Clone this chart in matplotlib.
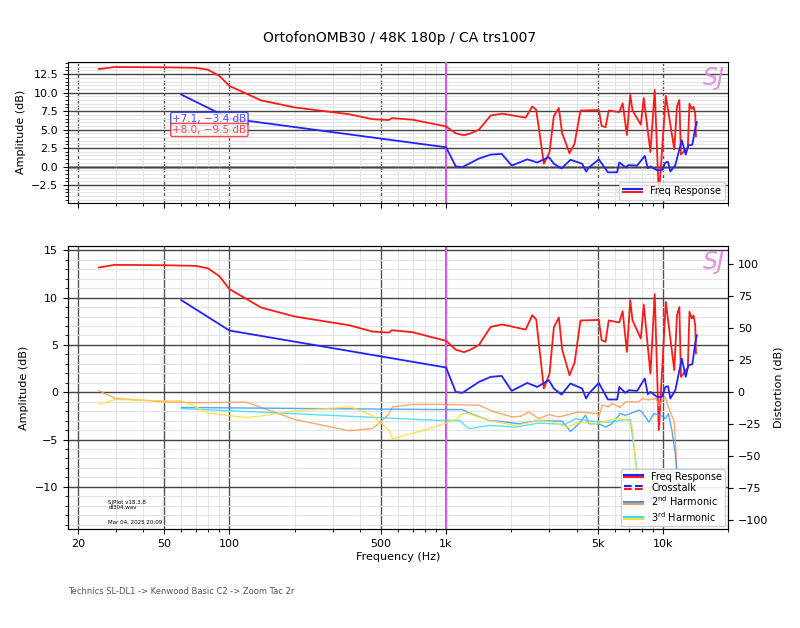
import matplotlib
matplotlib.use("Agg")
from matplotlib import pyplot as plt
from matplotlib.lines import Line2D
from matplotlib.legend_handler import HandlerBase
from matplotlib.ticker import FixedLocator, NullFormatter, MultipleLocator

TITLE = "OrtofonOMB30 / 48K 180p / CA trs1007"
FOOTER = "Technics SL-DL1 -> Kenwood Basic C2 -> Zoom Tac 2r"

# frequency response, red channel
freq_red = [25, 29.5, 50, 70, 79.5, 90, 100, 117, 140, 200, 357, 458, 545, 562, 700,
            1000, 1108, 1210, 1300, 1419, 1606, 1817, 2329, 2498, 2606, 2827, 3003,
            3143, 3315, 3433, 3712, 3916, 4172, 5070, 5220, 5444, 5630, 6300, 6530,
            6830, 7077, 7250, 7920, 8170, 8770, 9180, 9590, 10330, 11300, 11630,
            11930, 12130, 13050, 13280, 13600, 13870, 14120, 14230]
amp_red = [13.18, 13.46, 13.42, 13.35, 13.1, 12.26, 10.9, 10.0, 8.95, 8.0, 7.08, 6.41,
           6.3, 6.55, 6.34, 5.43, 4.5, 4.23, 4.5, 5.0, 6.9, 7.16, 6.62, 8.13, 7.68,
           0.39, 1.97, 6.84, 7.9, 4.51, 1.8, 3.1, 7.58, 7.64, 5.5, 5.32, 7.58, 7.37,
           8.56, 4.26, 9.72, 7.6, 5.67, 9.27, 1.97, 10.36, -4.0, 9.55, 2.33, 8.14,
           9.0, 1.62, 2.6, 8.5, 7.8, 8.1, 7.08, 4.1]

# frequency response, blue channel
freq_blue = [60, 100, 1000, 1108, 1189, 1419, 1606, 1806, 2009, 2370, 2635, 2980,
             3143, 3410, 3750, 4245, 4430, 4560, 5070, 5580, 6160, 6300, 6720, 6970,
             7610, 8260, 8530, 8770, 9400, 9900, 10290, 10580, 10840, 11430, 12240,
             12760, 13130, 13690, 14120, 14360]
amp_blue = [9.73, 6.52, 2.61, 0.03, -0.07, 1.09, 1.62, 1.72, 0.14, 0.98, 0.56, 1.27,
            0.39, -0.25, 0.92, 0.39, -0.67, -0.14, 0.98, -0.77, -0.77, 0.56, -0.07,
            0.21, 0.14, 1.45, -0.21, 0.03, -0.49, -0.49, 0.56, 0.63, -0.67, 0.21,
            3.56, 1.62, 2.85, 2.96, 5.15, 6.02]

# 2nd harmonic
h2_freq_orange = [25, 29.8, 50, 70, 119.5, 199.5, 357, 458, 500, 542, 566, 700, 928,
                  1419, 1635, 2020, 2208, 2410, 2680, 2980, 3315, 4100, 4980, 5070,
                  5250, 5630, 5830, 6360, 6720, 7750, 8030, 8630, 9300, 9590, 10230,
                  10610, 11300, 11630, 11900]
h2_orange = [1.0, -5.0, -7.6, -8.4, -7.9, -21.4, -30.3, -28.5, -23, -17.7, -11.6, -9.7,
             -9.7, -10.3, -15, -19.5, -19, -15.6, -20.8, -17.7, -19.5, -15.6, -16.9,
             -19.5, -10.3, -11.6, -8.9, -12.1, -7.7, -7.7, -5.0, -6.3, -5.0, -11,
             -3.7, -11.6, -23.5, -61.7, -90]
h2_freq_blue = [60, 928, 1189, 1276, 1578, 1883, 2170, 2680, 3090, 3433, 3750, 4100,
                4400, 4560, 5070, 5444, 5830, 6360, 6720, 7750, 8030, 8630, 9080, 9770,
                10290, 10610, 11020, 11430, 11800]
h2_blue = [-12.1, -13.7, -13.7, -16.4, -22.2, -23.5, -24.8, -22.2, -22.7, -22.7, -30.9,
           -24.8, -18.2, -24.8, -24.8, -27.4, -24.8, -16.9, -18.2, -14.2, -15.6, -23.5,
           -16.9, -18.2, -20.8, -16.9, -30, -48.5, -80]

# 3rd harmonic
h3_freq_cyan = [60, 928, 1150, 1276, 1578, 2090, 2680, 3550, 3960, 4400, 5070, 5830,
                6720, 7080, 7610, 7750, 8490, 9500, 10500, 11500]
h3_cyan = [-12.9, -22.2, -22.2, -28.7, -26.1, -27.4, -24.3, -25.3, -20.8, -22.2, -23.5,
           -23.5, -21.6, -21.6, -61.7, -77.5, -102.6, -97, -100, -96]
h3_freq_yellow = [25, 29.8, 49.4, 60, 67.8, 79.5, 119.5, 148, 196, 363, 458, 546, 566,
                  835, 1108, 1189, 1276, 1578, 2090, 2680, 3090, 3610, 4100, 4980, 5630,
                  6240, 6720, 6970, 7250, 7500, 8000, 9000, 10000]
h3_yellow = [-9.7, -5.8, -6.9, -6.9, -10.3, -16.4, -20, -18.2, -14.8, -11.6, -18.2, -30,
             -36.6, -28.7, -21.6, -16.9, -16.9, -22.2, -26.1, -22.2, -23.5, -27.4, -23.5,
             -24.8, -22.2, -20.8, -21.6, -22.2, -27.4, -56.4, -95, -98, -100]

xticks = [20, 50, 100, 500, 1000, 5000, 10000]
xticklabels = ["20", "50", "100", "500", "1k", "5k", "10k"]

RED = "#ff1a1a"
BLUE = "#2222ff"
ORANGE = "#ff9a50"
LBLUE = "#3399ff"
CYAN = "#33ddff"
YELLOW = "#ffdd33"
SJ = "#dd88dd"


class HandlerDouble(HandlerBase):
    # two stacked lines in one legend entry
    def create_artists(self, legend, orig_handle, xdescent, ydescent,
                       width, height, fontsize, trans):
        arts = []
        ys = [height * 0.68 - ydescent, height * 0.32 - ydescent]
        for h, y in zip(orig_handle, ys):
            ln = Line2D([-xdescent, width - xdescent], [y, y], color=h.get_color(),
                        lw=h.get_linewidth(), ls=h.get_linestyle())
            ln.set_transform(trans)
            arts.append(ln)
        return arts


def style_axes(ax, minor_y):
    ax.set_xscale("log")
    ax.set_xlim(18, 20000)
    ax.xaxis.set_major_locator(FixedLocator(xticks))
    ax.xaxis.set_minor_formatter(NullFormatter())
    ax.yaxis.set_minor_locator(MultipleLocator(minor_y))
    ax.grid(True, which="minor", color="#e4e4e4", lw=0.8)
    ax.grid(True, which="major", axis="y", color="#444444", lw=1.0)
    ax.tick_params(labelsize=8)
    ax.axvline(1000, color="#c466d4", lw=1.5, zorder=3)


fig = plt.figure(figsize=(8, 6.28), dpi=100)
fig.suptitle(TITLE, y=0.951, fontsize=10)

# upper plot
ax1 = fig.add_axes([0.085, 0.677, 0.825, 0.225])
style_axes(ax1, 0.5)
ax1.grid(True, which="major", axis="x", color="#555555", lw=1.0, ls=(0, (3, 1.5)))
ax1.axhline(0, color="#999999", lw=2, zorder=1)
ax1.plot(freq_red, amp_red, color=RED, lw=1.3, zorder=4)
ax1.plot(freq_blue, amp_blue, color=BLUE, lw=1.3, zorder=4)
ax1.set_ylim(-4.9, 14.2)
ax1.set_yticks([-2.5, 0, 2.5, 5, 7.5, 10, 12.5])
ax1.set_xticklabels([])
ax1.set_ylabel("Amplitude (dB)", fontsize=8)
ax1.text(0.158, 0.594, "+7.1, \u22123.4 dB", transform=ax1.transAxes, color=BLUE,
         fontsize=7.5, va="center", zorder=6, alpha=0.8,
         bbox=dict(boxstyle="round,pad=0.15", fc="white", ec=BLUE, alpha=0.8))
ax1.text(0.158, 0.516, "+8.0, \u22129.5 dB", transform=ax1.transAxes, color=RED,
         fontsize=7.5, va="center", zorder=6, alpha=0.8,
         bbox=dict(boxstyle="round,pad=0.15", fc="white", ec=RED, alpha=0.8))
ax1.text(0.995, 0.97, "SJ", transform=ax1.transAxes, color=SJ, fontsize=17,
         style="italic", ha="right", va="top", alpha=0.9)
fr1 = (Line2D([], [], color=BLUE, lw=1.5), Line2D([], [], color=RED, lw=1.5))
ax1.legend([fr1], ["Freq Response"], handler_map={tuple: HandlerDouble()},
           loc="lower right", fontsize=7, borderaxespad=0.3)

# lower plot
ax2 = fig.add_axes([0.085, 0.157, 0.825, 0.452])
style_axes(ax2, 1)
ax2.grid(True, which="major", axis="x", color="#555555", lw=1.0)
ax2.plot(freq_red, amp_red, color=RED, lw=1.3, zorder=4)
ax2.plot(freq_blue, amp_blue, color=BLUE, lw=1.3, zorder=4)
ax2.set_ylim(-14.5, 15.5)
ax2.set_yticks([-10, -5, 0, 5, 10, 15])
ax2.set_xticklabels(xticklabels)
ax2.set_xlabel("Frequency (Hz)", fontsize=8, labelpad=2)
ax2.set_ylabel("Amplitude (dB)", fontsize=8)
ax2.text(0.061, 0.086, "SJPlot v18.3.8\ndl304.wav", transform=ax2.transAxes,
         fontsize=4, va="center")
ax2.text(0.061, 0.026, "Mar 04, 2025 20:09", transform=ax2.transAxes,
         fontsize=4, va="center")
ax2.text(0.995, 0.985, "SJ", transform=ax2.transAxes, color=SJ, fontsize=17,
         style="italic", ha="right", va="top", alpha=0.9)

ax3 = ax2.twinx()
ax3.plot(h2_freq_orange, h2_orange, color=ORANGE, lw=1.0, alpha=0.85)
ax3.plot(h2_freq_blue, h2_blue, color=LBLUE, lw=1.0, alpha=0.85)
ax3.plot(h3_freq_cyan, h3_cyan, color=CYAN, lw=1.0, alpha=0.85)
ax3.plot(h3_freq_yellow, h3_yellow, color=YELLOW, lw=1.0, alpha=0.85)
ax3.set_ylim(-107.4, 114.5)
ax3.set_yticks([-100, -75, -50, -25, 0, 25, 50, 75, 100])
ax3.tick_params(labelsize=8)
ax3.set_ylabel("Distortion (dB)", fontsize=8)

dashdot = (0, (2.5, 1, 1, 1))
fr2 = (Line2D([], [], color=BLUE, lw=1.5), Line2D([], [], color=RED, lw=1.5))
ct = (Line2D([], [], color=BLUE, lw=1.5, ls=dashdot), Line2D([], [], color=RED, lw=1.5, ls=dashdot))
h2 = (Line2D([], [], color=LBLUE, lw=1.5), Line2D([], [], color=ORANGE, lw=1.5))
h3 = (Line2D([], [], color=CYAN, lw=1.5), Line2D([], [], color=YELLOW, lw=1.5))
ax3.legend([fr2, ct, h2, h3],
           ["Freq Response", "Crosstalk", "2$^{\\rm nd}$ Harmonic", "3$^{\\rm rd}$ Harmonic"],
           handler_map={tuple: HandlerDouble()}, loc="lower right", fontsize=7,
           borderaxespad=0.3, labelspacing=0.15, borderpad=0.3, framealpha=0.9)

fig.text(0.085, 0.054, FOOTER, fontsize=6, color="#555555")

fig.savefig("out.png", dpi=100)
